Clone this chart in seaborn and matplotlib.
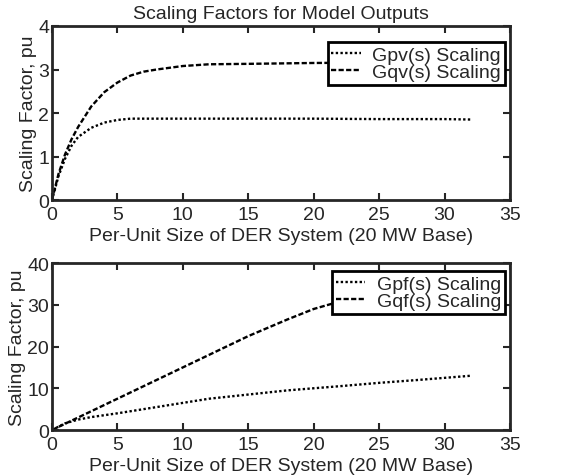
import numpy as np
import pandas as pd
import matplotlib
matplotlib.use("Agg")
import matplotlib.pyplot as plt
import seaborn as sns

# ------------------------------------------------------------------------------
# Values
x_v = [0, 0.5, 1, 1.5, 2, 3, 4, 5, 6, 7, 8, 10, 12, 15, 20, 25, 30, 32]
gpv = [0, 0.55, 0.95, 1.25, 1.45, 1.66, 1.78, 1.84, 1.87, 1.87, 1.87, 1.87, 1.87, 1.87, 1.87, 1.86, 1.86, 1.85]
gqv = [0, 0.6, 1.05, 1.4, 1.68, 2.15, 2.48, 2.7, 2.86, 2.95, 3.0, 3.08, 3.12, 3.13, 3.15, 3.16, 3.16, 3.16]

x_f = [0, 1, 2, 3, 5, 7, 10, 12, 15, 18, 20, 22, 25, 28, 30, 32]
gpf = [0, 1.6, 2.5, 3.1, 4.0, 5.0, 6.5, 7.5, 8.5, 9.5, 10.0, 10.5, 11.3, 12.0, 12.5, 13.0]
gqf = [0, 1.5, 3.0, 4.5, 7.5, 10.5, 15.0, 18.0, 22.5, 26.5, 29.0, 30.8, 32.8, 34.5, 35.5, 36.0]

top_labels = ["Gpv(s) Scaling", "Gqv(s) Scaling"]
bot_labels = ["Gpf(s) Scaling", "Gqf(s) Scaling"]

# ------------------------------------------------------------------------------
sns.set_style("ticks")
plt.rcParams["font.family"] = ["Liberation Sans", "DejaVu Sans"]
fs = 14

fig = plt.figure(figsize=(5.75, 4.77), dpi=100)
ax1 = fig.add_axes([0.0904, 0.5786, 0.7965, 0.3648])
ax2 = fig.add_axes([0.0904, 0.0964, 0.7965, 0.3500])

top = pd.DataFrame({"x": x_v, top_labels[0]: gpv, top_labels[1]: gqv})
bot = pd.DataFrame({"x": x_f, bot_labels[0]: gpf, bot_labels[1]: gqf})

styles = [(0, (1, 1)), (0, (2.2, 1))]

for ax, df, labels in [(ax1, top, top_labels), (ax2, bot, bot_labels)]:
    for lab, ls in zip(labels, styles):
        sns.lineplot(data=df, x="x", y=lab, ax=ax, color="black", lw=1.7,
                     linestyle=ls, label=lab)
    ax.set_xlim(0, 35)
    ax.set_xticks(range(0, 36, 5))
    ax.set_xlabel("Per-Unit Size of DER System (20 MW Base)", fontsize=fs, labelpad=3)
    ax.set_ylabel("Scaling Factor, pu", fontsize=fs, labelpad=1)
    for s in ax.spines.values():
        s.set_linewidth(2)
        s.set_visible(True)
    ax.tick_params(direction="in", length=5, width=1.5, top=True, right=True,
                   labelsize=fs)
    ax.tick_params(axis="x", pad=4)
    ax.tick_params(axis="y", pad=2)

ax1.set_ylim(0, 4)
ax1.set_yticks(range(0, 5))
ax2.set_ylim(0, 40)
ax2.set_yticks(range(0, 41, 10))

ax1.set_title("Scaling Factors for Model Outputs", fontsize=fs, pad=6)

leg_pos = [(ax1, (0.989, 0.908)), (ax2, (0.989, 0.952))]
for ax, anchor in leg_pos:
    leg = ax.legend(loc="upper right", bbox_to_anchor=anchor, frameon=True,
                    fancybox=False, framealpha=1, edgecolor="black",
                    handlelength=1.5, handletextpad=0.6, borderpad=0.2,
                    labelspacing=0.0, fontsize=fs, borderaxespad=0)
    leg.get_frame().set_linewidth(2)

fig.savefig("out.png", dpi=100)
